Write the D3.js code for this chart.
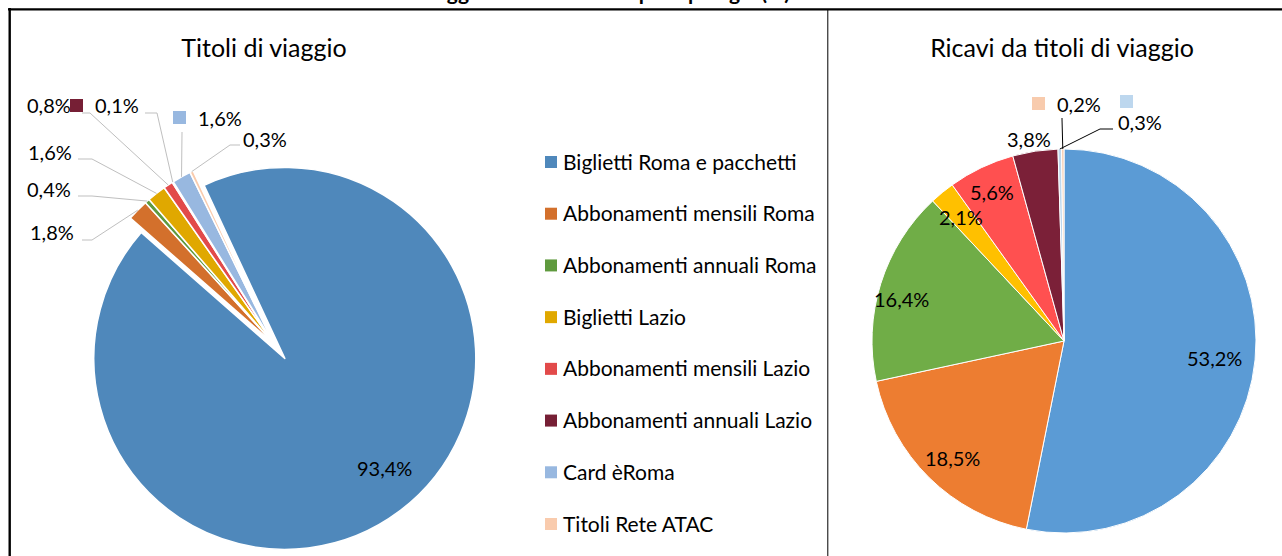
<!DOCTYPE html>
<meta charset="utf-8">
<style>
body { margin: 0; background: #fff; }
text { font-family: "Lato", "Noto Sans", sans-serif; fill: #000; }
.title { font-size: 25px; }
.lbl { font-size: 20px; }
.legend text { font-size: 21px; }
.lead-left { fill: none; stroke: #bfbfbf; stroke-width: 1px; }
.lead-right { fill: none; stroke: #000; stroke-width: 1px; }
</style>
<body>
<script src="https://cdn.jsdelivr.net/npm/d3@7"></script>
<script>

// data
var categories = ["Biglietti Roma e pacchetti", "Abbonamenti mensili Roma", "Abbonamenti annuali Roma",
                  "Biglietti Lazio", "Abbonamenti mensili Lazio", "Abbonamenti annuali Lazio",
                  "Card èRoma", "Titoli Rete ATAC"];
var titoliValues = [93.4, 1.8, 0.4, 1.6, 0.8, 0.1, 1.6, 0.3];
var ricaviValues = [53.2, 18.5, 16.4, 2.1, 5.6, 3.8, 0.3, 0.2];
var chartTitles = ["Titoli di viaggio", "Ricavi da titoli di viaggio"];
var mainTitle = "Titoli di viaggio venduti e ricavi per tipologia (%)";

// colours
var leftColors = ["#4f88bb", "#d3702c", "#5f9a3e", "#e0a800", "#e24a4a", "#761f35", "#98b8e0", "#f9cbad"];
var rightColors = ["#5b9bd5", "#ed7d31", "#70ad47", "#ffc000", "#ff5050", "#7b2038", "#bdd7ee", "#f8cbad"];

// label placement (text x, baseline y, optional elbow points of the leader line, optional legend key)
var leftLabelPos = [
  {x: 357, y: 476},
  {x: 30, y: 240, line: [[82, 240], [92, 240]]},
  {x: 27, y: 197, line: [[78, 196], [92, 196]]},
  {x: 28, y: 160, line: [[78, 159], [92, 159]]},
  {x: 27, y: 113, line: [[82, 113], [90, 113]]},
  {x: 95, y: 113, line: [[145, 113], [157, 113]], key: [70, 99]},
  {x: 198, y: 126, line: [[182, 132], [182, 133]], key: [173, 111]},
  {x: 243, y: 147, line: [[240, 145], [230, 145]]}
];
var rightLabelPos = [
  {x: 1187, y: 366},
  {x: 925, y: 466},
  {x: 874, y: 307},
  {x: 939, y: 225},
  {x: 970, y: 200},
  {x: 1007, y: 147},
  {x: 1118, y: 130, line: [[1113, 129], [1100, 129]], key: [1120, 95]},
  {x: 1057, y: 112, line: [[1062, 118], [1062, 119]], key: [1032, 97]}
];

var W = 1282, H = 556;
var fmt = function(v) { return d3.format(".1f")(v).replace(".", ",") + "%"; };
var deg = Math.PI / 180;

var svg = d3.select("body").append("svg")
    .attr("width", W)
    .attr("height", H);

// main title, mostly cut off above the frame
svg.append("text")
    .attr("x", 790)
    .attr("y", 0)
    .attr("text-anchor", "end")
    .style("font-weight", "bold")
    .style("font-size", "21px")
    .text(mainTitle);

// frame
svg.append("line").attr("x1", 8).attr("x2", W).attr("y1", 9.3).attr("y2", 9.3)
    .attr("stroke", "#000").attr("stroke-width", 2.2);
svg.append("line").attr("x1", 9.7).attr("x2", 9.7).attr("y1", 8).attr("y2", H)
    .attr("stroke", "#000").attr("stroke-width", 2.4);
svg.append("line").attr("x1", 827.8).attr("x2", 827.8).attr("y1", 10).attr("y2", H)
    .attr("stroke", "#000").attr("stroke-width", 1);

// chart titles
svg.append("text").attr("class", "title")
    .attr("x", 264).attr("y", 57).attr("text-anchor", "middle")
    .text(chartTitles[0]);
svg.append("text").attr("class", "title")
    .attr("x", 1062).attr("y", 57).attr("text-anchor", "middle")
    .text(chartTitles[1]);

function drawPie(opts) {
  var pie = d3.pie().sort(null)
      .startAngle(opts.start)
      .endAngle(opts.start + 2 * Math.PI);
  var arcs = pie(opts.values);
  var arc = d3.arc().innerRadius(0).outerRadius(opts.r);
  var rim = d3.arc().innerRadius(opts.r).outerRadius(opts.r);

  var g = svg.append("g")
      .attr("transform", "translate(" + opts.cx + "," + opts.cy + ")");

  g.selectAll("path")
      .data(arcs)
    .enter().append("path")
      .attr("d", arc)
      .attr("fill", function(d, i) { return opts.colors[i]; })
      .attr("stroke", "#fff")
      .attr("stroke-width", opts.stroke)
      .attr("stroke-linejoin", "round")
      .attr("transform", function(d, i) {
        var e = opts.explode[i] || 0;
        var m = (d.startAngle + d.endAngle) / 2;
        return "translate(" + (Math.sin(m) * e) + "," + (-Math.cos(m) * e) + ")";
      });

  // leader lines
  arcs.forEach(function(d, i) {
    var p = opts.labels[i];
    if (!p.line) return;
    var c = rim.centroid(d);
    var pts = [[opts.cx + c[0], opts.cy + c[1]]].concat(p.line.slice().reverse());
    svg.append("path")
        .attr("class", opts.leadClass)
        .attr("d", d3.line()(pts));
  });

  // value labels (with legend key where the original shows one)
  arcs.forEach(function(d, i) {
    var p = opts.labels[i];
    if (p.key) {
      svg.append("rect")
          .attr("x", p.key[0]).attr("y", p.key[1])
          .attr("width", 13).attr("height", 13)
          .attr("fill", opts.colors[i]);
    }
    svg.append("text")
        .attr("class", "lbl")
        .attr("x", p.x)
        .attr("y", p.y)
        .text(fmt(opts.values[i]));
  });
}

drawPie({
  values: titoliValues, colors: leftColors, labels: leftLabelPos,
  cx: 274, cy: 344, r: 191, start: -25 * deg, stroke: 1.5,
  explode: [18], leadClass: "lead-left"
});

drawPie({
  values: ricaviValues, colors: rightColors, labels: rightLabelPos,
  cx: 1064, cy: 341, r: 192, start: 0, stroke: 1,
  explode: [], leadClass: "lead-right"
});

// legend between the two pies
var legend = svg.append("g").attr("class", "legend");
var ly = d3.scalePoint().domain(categories).range([162, 524]);
var items = legend.selectAll("g")
    .data(categories)
  .enter().append("g")
    .attr("transform", function(d) { return "translate(545," + ly(d) + ")"; });
items.append("rect")
    .attr("x", 0).attr("y", -6)
    .attr("width", 12).attr("height", 12)
    .attr("fill", function(d, i) { return leftColors[i]; });
items.append("text")
    .attr("x", 18).attr("y", 7.5)
    .text(function(d) { return d; });

</script>
</body>
